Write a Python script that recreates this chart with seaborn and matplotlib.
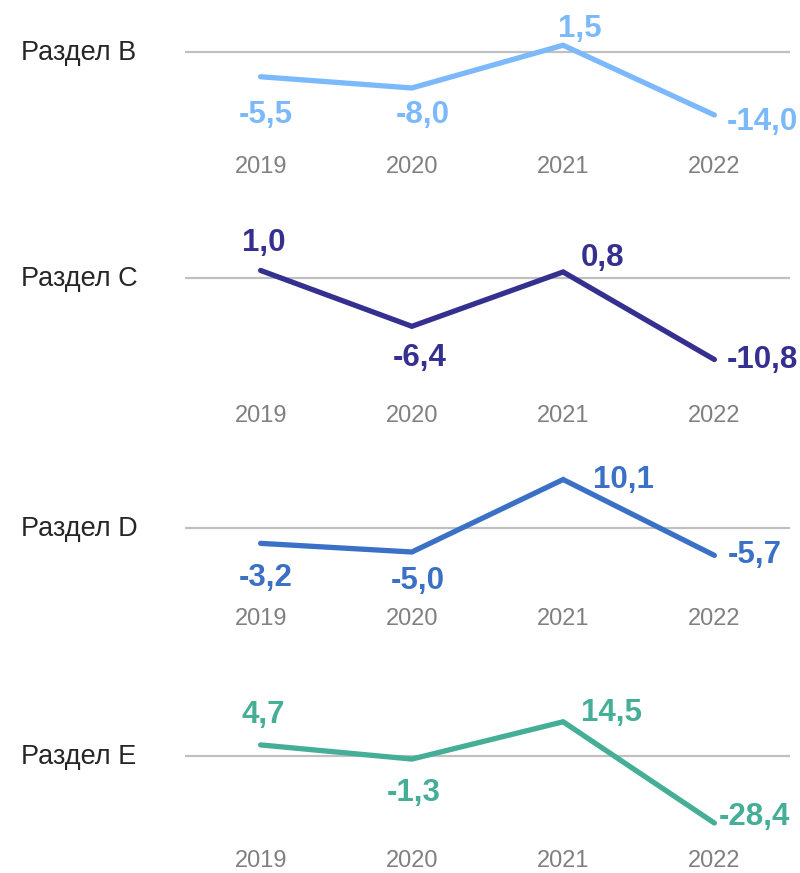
import matplotlib
matplotlib.use("Agg")
import matplotlib.pyplot as plt
import matplotlib.transforms as mtransforms
import seaborn as sns
import pandas as pd

sns.set_theme(style="white")
plt.rcParams['font.family'] = ['Liberation Sans', 'DejaVu Sans']

# ---- data ----
years = ["2019", "2020", "2021", "2022"]
sections = ["Раздел B", "Раздел C", "Раздел D", "Раздел E"]
values_b = [-5.5, -8.0, 1.5, -14.0]
values_c = [1.0, -6.4, 0.8, -10.8]
values_d = [-3.2, -5.0, 10.1, -5.7]
values_e = [4.7, -1.3, 14.5, -28.4]
all_values = [values_b, values_c, values_d, values_e]

# ---- styles / layout ----
colors = ["#7cb9fb", "#35308f", "#3a70c6", "#45ae96"]
W, H = 800, 873
zero_px = [52, 278, 528, 756]          # pixel y of zero line
scale_px = [4.5, 7.55, 4.8, 2.36]      # pixels per unit
year_px = [167, 416, 619, 861]         # pixel y of year labels
# label offsets in pixels (dx, dy downwards) and alignment
label_offsets = [
    [(5, 38, "center"), (11, 27, "center"), (17, -16, "center"), (12, 7, "left")],
    [(3, -27, "center"), (8, 32, "center"), (39, -14, "center"), (12, 0, "left")],
    [(5, 35, "center"), (6, 29, "center"), (30, 0, "left"), (13, 0, "left")],
    [(3, -30, "center"), (2, 34, "center"), (18, -9, "left"), (4, -6, "left")],
]

fig = plt.figure(figsize=(W / 100, H / 100), dpi=100)
left_px, right_px = 185, 790
span_up, span_down = 90, 110

for k, (name, vals) in enumerate(zip(sections, all_values)):
    y0 = zero_px[k]
    s = scale_px[k]
    bottom = 1 - (y0 + span_down) / H
    height = (span_up + span_down) / H
    ax = fig.add_axes([left_px / W, bottom, (right_px - left_px) / W, height])
    ax.patch.set_alpha(0)
    df = pd.DataFrame({"year": years, "value": vals})
    df["pos"] = range(len(years))
    sns.lineplot(data=df, x="pos", y="value", ax=ax, color=colors[k],
                 linewidth=3.8, solid_capstyle="round", solid_joinstyle="miter")
    for ln in ax.lines:
        ln.set_clip_on(False)
    ax.axhline(0, color="#c0c0c0", linewidth=1.6, zorder=0)
    ax.set_xlim(-0.5, len(years) - 0.5)
    ax.set_ylim(-span_down / s, span_up / s)
    ax.axis("off")

    for i, v in enumerate(vals):
        dx, dy, ha = label_offsets[k][i]
        ax.annotate(f"{v:.1f}".replace(".", ","), xy=(i, v),
                    xytext=(dx * 0.72, -dy * 0.72), textcoords="offset points",
                    ha=ha, va="center", fontsize=22.5, fontweight="bold",
                    color=colors[k], annotation_clip=False)

    trans = mtransforms.blended_transform_factory(ax.transData, fig.transFigure)
    for i, yr in enumerate(years):
        ax.text(i, 1 - year_px[k] / H, yr, transform=trans, ha="center",
                va="center", fontsize=17, color="#808080")

    fig.text(21 / W, 1 - (y0 + 1) / H, name, ha="left", va="center",
             fontsize=19.5, color="#262626")

fig.savefig("out.png", dpi=100)
